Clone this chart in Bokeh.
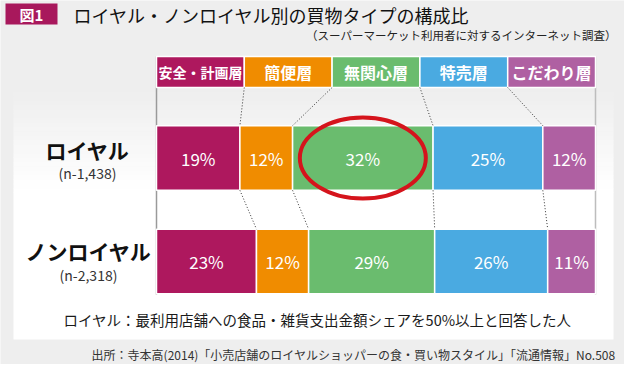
from bokeh.plotting import figure
from bokeh.models import Range1d, ColumnDataSource
from bokeh.embed import file_html
from bokeh.resources import INLINE
from bokeh.core.properties import value

# ---------------- data ----------------
segments = ["安全・計画層", "簡便層", "無関心層", "特売層", "こだわり層"]
colors = ["#AE185E", "#F08C00", "#6ABC6E", "#4AAAE1", "#AF60A2"]
groups = ["ロイヤル", "ノンロイヤル"]
group_n = ["(n-1,438)", "(n-2,318)"]
loyal = [19, 12, 32, 25, 12]
nonloyal = [23, 12, 29, 26, 11]
title = "ロイヤル・ノンロイヤル別の買物タイプの構成比"
subtitle = "（スーパーマーケット利用者に対するインターネット調査）"
fig_label = "図1"
note = "ロイヤル：最利用店舗への食品・雑貨支出金額シェアを50%以上と回答した人"
source_txt = "出所：寺本高(2014)「小売店舗のロイヤルショッパーの食・買い物スタイル」「流通情報」No.508"

FONT = value("Noto Sans CJK JP")

# ---------------- layout helpers (page pixel -> data) ----------------
X0, SX = 164.0, 4.39     # x=0% at px 164, 100% at px 603
Y0, SY = 269.0, 103.5    # row 0 centre at px 269, one row unit = 103.5px


def fx(px):
    return (px - X0) / SX


def fy(py):
    return (Y0 - py) / SY


p = figure(width=624, height=364,
           x_range=Range1d(fx(8), fx(632)), y_range=Range1d(fy(372), fy(8)),
           x_axis_location=None, y_axis_location=None,
           toolbar_location=None, output_backend="svg",
           min_border=0, outline_line_color=None,
           background_fill_color="#EEEEEE", border_fill_color="#EEEEEE")
p.xgrid.grid_line_color = None
p.ygrid.grid_line_color = None

# ---------------- panel with soft top gradient ----------------
n_strips = 24
g_top, g_bot = 95.0, 200.0
for i in range(n_strips):
    t = i / (n_strips - 1)
    c = int(round(0xEE + (0xFF - 0xEE) * t))
    col = "#%02x%02x%02x" % (c, c, c)
    y1 = g_top + (g_bot - g_top) * i / n_strips
    y2 = g_top + (g_bot - g_top) * (i + 1) / n_strips + 0.6
    p.quad(left=fx(21), right=fx(621), top=fy(y1), bottom=fy(y2),
           fill_color=col, line_color=None)
p.quad(left=fx(21), right=fx(621), top=fy(g_bot), bottom=fy(347),
       fill_color="white", line_color=None)

# ---------------- row geometry ----------------
row_y = [1.0, 0.0]
bar_h = 0.625
head_y = fy(79.5)
head_h = 31 / SY

# axis lines
p.segment(x0=[0], y0=[fy(64)], x1=[0], y1=[fy(302)], line_color="#9A9A9A", line_width=1.5)
p.segment(x0=[100], y0=[fy(64)], x1=[100], y1=[fy(302)], line_color="#BDBDBD", line_width=1.5)

# ---------------- header boxes ----------------
nseg = len(segments)
hl = [100 * i / nseg for i in range(nseg)]
hr = [100 * (i + 1) / nseg for i in range(nseg)]
hsrc = ColumnDataSource(dict(left=hl, right=hr, y=[head_y] * nseg, color=colors,
                             label=segments, xc=[(a + b) / 2 for a, b in zip(hl, hr)],
                             size=["14px" if len(s) > 5 else "16px" for s in segments]))
p.hbar(y="y", left="left", right="right", height=head_h, fill_color="color",
       line_color="white", line_width=1.5, source=hsrc)
p.text(x="xc", y="y", text="label", text_color="white", text_font=FONT,
       text_font_size="size", text_font_style="bold", text_align="center",
       text_baseline="middle", source=hsrc)

# ---------------- stacked bars ----------------
cums = []
for vals, yy in zip([loyal, nonloyal], row_y):
    tot = float(sum(vals))
    lefts, rights = [], []
    acc = 0.0
    for v in vals:
        lefts.append(100 * acc / tot)
        acc += v
        rights.append(100 * acc / tot)
    cums.append(rights[:-1])
    src = ColumnDataSource(dict(y=[yy] * len(vals), left=lefts, right=rights,
                                color=colors, lab=["%d%%" % v for v in vals],
                                xc=[(a + b) / 2 for a, b in zip(lefts, rights)]))
    p.hbar(y="y", left="left", right="right", height=bar_h, fill_color="color",
           line_color="white", line_width=1.5, source=src)
    p.text(x="xc", y="y", text="lab", text_color="white", text_font=FONT,
           text_font_size="17px", text_align="center", text_baseline="middle",
           source=src)

# ---------------- dotted connectors ----------------
x0s, y0s, x1s, y1s = [], [], [], []
for i in range(nseg - 1):
    x0s.append(hr[i]); y0s.append(head_y - head_h / 2)
    x1s.append(cums[0][i]); y1s.append(row_y[0] + bar_h / 2)
    x0s.append(cums[0][i]); y0s.append(row_y[0] - bar_h / 2)
    x1s.append(cums[1][i]); y1s.append(row_y[1] + bar_h / 2)
p.segment(x0=x0s, y0=y0s, x1=x1s, y1=y1s, line_color="#333333",
          line_width=1, line_dash="1 2")

# ---------------- highlight ellipse on loyal 無関心層 ----------------
gi = 2
l0 = cums[0][gi - 1]
r0 = cums[0][gi]
p.ellipse(x=[(l0 + r0) / 2], y=[row_y[0]], width=126 / SX, height=81 / SY,
          fill_color=None, line_color="#D5141C", line_width=4)

# ---------------- row labels ----------------
p.text(x=[fx(95), fx(96)], y=[fy(157), fy(258)], text=groups, text_color="#111111",
       text_font=FONT, text_font_size="21px", text_font_style="bold",
       text_align="center", text_baseline="middle")
p.text(x=[fx(95), fx(96)], y=[fy(180), fy(282)], text=group_n, text_color="#333333",
       text_font=FONT, text_font_size="14px", text_align="center",
       text_baseline="middle")

# ---------------- title ----------------
p.quad(left=[fx(13)], right=[fx(65)], top=[fy(11)], bottom=[fy(32)],
       fill_color="#A8185C", line_color=None)
p.text(x=[fx(39)], y=[fy(21.5)], text=[fig_label], text_color="white", text_font=FONT,
       text_font_size="15px", text_font_style="bold", text_align="center",
       text_baseline="middle")
p.text(x=[fx(81)], y=[fy(22)], text=[title], text_color="#111111", text_font=FONT,
       text_font_size="18px", text_align="left", text_baseline="middle")
p.text(x=[fx(624)], y=[fy(42)], text=[subtitle], text_color="#222222", text_font=FONT,
       text_font_size="11.5px", text_align="right", text_baseline="middle")

# ---------------- notes ----------------
p.text(x=[fx(325)], y=[fy(327)], text=[note], text_color="#1A1A1A", text_font=FONT,
       text_font_size="14.5px", text_align="center", text_baseline="middle")
p.text(x=[fx(623)], y=[fy(362)], text=[source_txt], text_color="#333333", text_font=FONT,
       text_font_size="12px", text_align="right", text_baseline="middle")

open("out.html", "w").write(file_html(p, INLINE))
